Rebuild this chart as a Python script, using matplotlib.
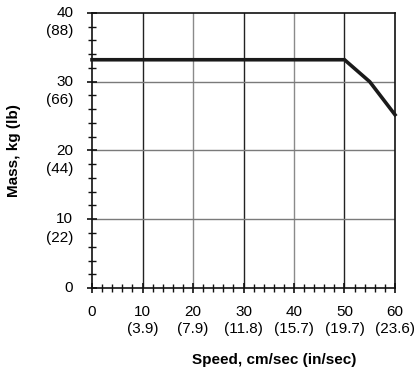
import matplotlib
matplotlib.use("Agg")
import matplotlib.pyplot as plt
from matplotlib.ticker import MultipleLocator
from matplotlib.transforms import ScaledTranslation

speed = [0, 50, 55, 60]
mass = [33.2, 33.2, 30.0, 25.2]

x_ticks = [0, 10, 20, 30, 40, 50, 60]
x_labels = ["0", "10\n(3.9)", "20\n(7.9)", "30\n(11.8)", "40\n(15.7)", "50\n(19.7)", "60\n(23.6)"]
y_ticks = [0, 10, 20, 30, 40]
y_labels = ["0", "10\n(22)", "20\n(44)", "30\n(66)", "40\n(88)"]

plt.rcParams["font.family"] = ["Liberation Sans", "DejaVu Sans"]

fig = plt.figure(figsize=(4.15, 3.69), dpi=100)
ax = fig.add_axes([0.2217, 0.2195, 0.7301, 0.7453])
ax.set_xlim(0, 60)
ax.set_ylim(0, 40)

# grid
for xv in x_ticks[1:-1]:
    ax.axvline(xv, color="#222222" if xv in (10, 30, 50) else "#8a8a8a", lw=1.0, zorder=1)
for yv in y_ticks[1:-1]:
    ax.axhline(yv, color="#7a7a7a", lw=1.0, zorder=1)

ax.plot(speed, mass, color="#1a1a1a", lw=2.6, solid_joinstyle="miter", zorder=3, clip_on=False)

for s in ax.spines.values():
    s.set_color("#111111")
    s.set_linewidth(1.2)

ax.set_xticks(x_ticks)
ax.set_xticklabels(x_labels, fontsize=11, linespacing=1.25)
ax.set_yticks(y_ticks)
ax.set_yticklabels(y_labels, fontsize=11, linespacing=1.4, ha="right")
ax.xaxis.set_minor_locator(MultipleLocator(2))
ax.yaxis.set_minor_locator(MultipleLocator(2))
ax.tick_params(axis="both", which="major", direction="inout", length=7, width=1.2, color="#111111")
ax.tick_params(axis="both", which="minor", direction="inout", length=6, width=1.0, color="#111111")
ax.tick_params(axis="x", which="major", pad=9)
ax.tick_params(axis="y", which="major", pad=10)

# y labels: first line centered on tick
off = ScaledTranslation(0, 5.0 / 72, fig.dpi_scale_trans)
for lab in ax.get_yticklabels():
    lab.set_va("top")
    lab.set_transform(lab.get_transform() + off)

ax.set_xlabel("Speed, cm/sec (in/sec)", fontsize=11, fontweight="bold")
ax.xaxis.set_label_coords(0.6, -0.235)
ax.set_ylabel("Mass, kg (lb)", fontsize=11, fontweight="bold")
ax.yaxis.set_label_coords(-0.235, 0.5)

fig.savefig("out.png", dpi=100, facecolor="white")
